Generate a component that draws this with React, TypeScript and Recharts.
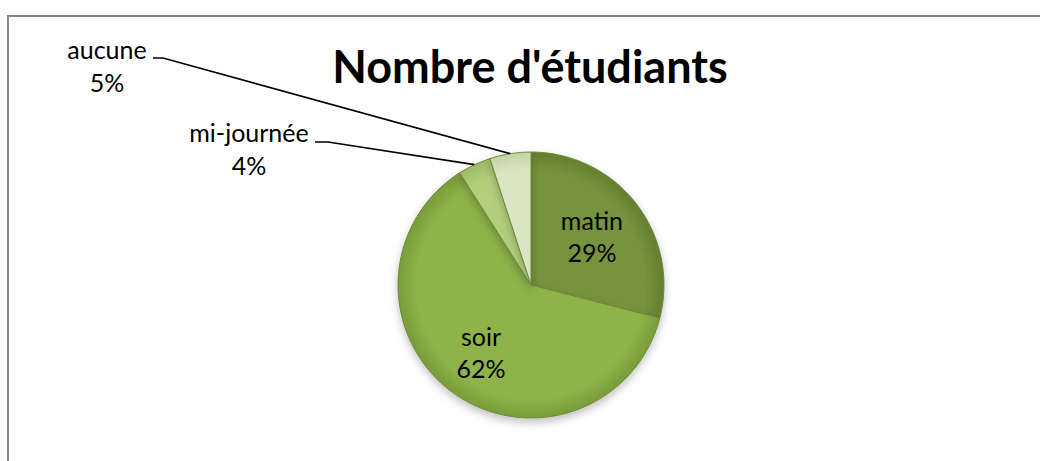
import React from 'react';
import { PieChart, Pie, Cell, Customized } from 'recharts';

const categories = ['matin', 'soir', 'mi-journée', 'aucune'];
const values = [29, 62, 4, 5];
const title = "Nombre d'étudiants";

const sliceColors = ['#77933C', '#8DB348', '#B3CF7D', '#DAE6C3'];
const rimColors = ['#657E31', '#789C3A', '#9DBB66', '#C3D4A3'];

const data = categories.map((name, i) => ({ name, value: values[i] }));

const CX = 531;
const CY = 285;
const R = 133;
const RAD = Math.PI / 180;

// label placement (layout only)
const insideRadius: Record<string, number> = { matin: 0.58, soir: 0.64 };
const outsideLabels: Record<string, { x: number; y1: number; y2: number; lx0: number; lx1: number; ly: number }> = {
  aucune: { x: 107, y1: 59, y2: 92, lx0: 153, lx1: 163, ly: 58 },
  'mi-journée': { x: 249, y1: 142, y2: 175, lx0: 315, lx1: 328, ly: 142 },
};

const FONT = 'Lato, "Open Sans", sans-serif';

const renderLabel = (props: any) => {
  const { cx, cy, midAngle, outerRadius, name, percent } = props;
  const pct = `${Math.round(percent * 100)}%`;
  const o = outsideLabels[name];
  if (o) {
    const ex = cx + outerRadius * Math.cos(-midAngle * RAD);
    const ey = cy + outerRadius * Math.sin(-midAngle * RAD);
    return (
      <g>
        <polyline
          points={`${o.lx0},${o.ly} ${o.lx1},${o.ly} ${ex},${ey}`}
          fill="none"
          stroke="#000"
          strokeWidth={1.6}
        />
        <text x={o.x} y={o.y1} textAnchor="middle" fontFamily={FONT} fontSize={25} fill="#000">
          {name}
        </text>
        <text x={o.x} y={o.y2} textAnchor="middle" fontFamily={FONT} fontSize={25} fill="#000">
          {pct}
        </text>
      </g>
    );
  }
  const r = outerRadius * (insideRadius[name] ?? 0.6);
  const x = cx + r * Math.cos(-midAngle * RAD);
  const y = cy + r * Math.sin(-midAngle * RAD);
  return (
    <g>
      <text x={x} y={y - 8} textAnchor="middle" fontFamily={FONT} fontSize={25} fill="#000">
        {name}
      </text>
      <text x={x} y={y + 24} textAnchor="middle" fontFamily={FONT} fontSize={25} fill="#000">
        {pct}
      </text>
    </g>
  );
};

const Defs = () => (
  <defs>
    {sliceColors.map((c, i) => (
      <radialGradient key={i} id={`grad${i}`} gradientUnits="userSpaceOnUse" cx={CX} cy={CY} r={R}>
        <stop offset="0%" stopColor={c} />
        <stop offset="86%" stopColor={c} />
        <stop offset="100%" stopColor={rimColors[i]} />
      </radialGradient>
    ))}
    <filter id="pieShadow" x="-20%" y="-20%" width="140%" height="140%">
      <feDropShadow dx="0" dy="4" stdDeviation="4" floodColor="#000" floodOpacity="0.25" />
    </filter>
  </defs>
);

const Title = () => (
  <text x={530} y={83} textAnchor="middle" fontFamily={FONT} fontWeight={700} fontSize={45} fill="#000">
    {title}
  </text>
);

export default function App() {
  return (
    <div style={{ position: 'absolute', left: 0, top: 0, width: 1040, height: 461, background: '#fff', overflow: 'hidden' }}>
      <div
        style={{
          position: 'absolute',
          left: 7,
          top: 15,
          width: 1100,
          height: 500,
          borderLeft: '2px solid #888888',
          borderTop: '2px solid #888888',
        }}
      />
      <div style={{ position: 'absolute', left: 0, top: 0 }}>
        <PieChart width={1040} height={461} margin={{ top: 0, right: 0, bottom: 0, left: 0 }}>
          <Customized component={Defs} />
          <Pie
            data={data}
            dataKey="value"
            nameKey="name"
            cx={CX}
            cy={CY}
            outerRadius={R}
            startAngle={90}
            endAngle={-270}
            isAnimationActive={false}
            label={renderLabel}
            labelLine={false}
            stroke="#6E8A3A"
            strokeWidth={1}
            style={{ filter: 'url(#pieShadow)' }}
          >
            {data.map((d, i) => (
              <Cell key={d.name} fill={`url(#grad${i})`} />
            ))}
          </Pie>
          <Customized component={Title} />
        </PieChart>
      </div>
    </div>
  );
}
